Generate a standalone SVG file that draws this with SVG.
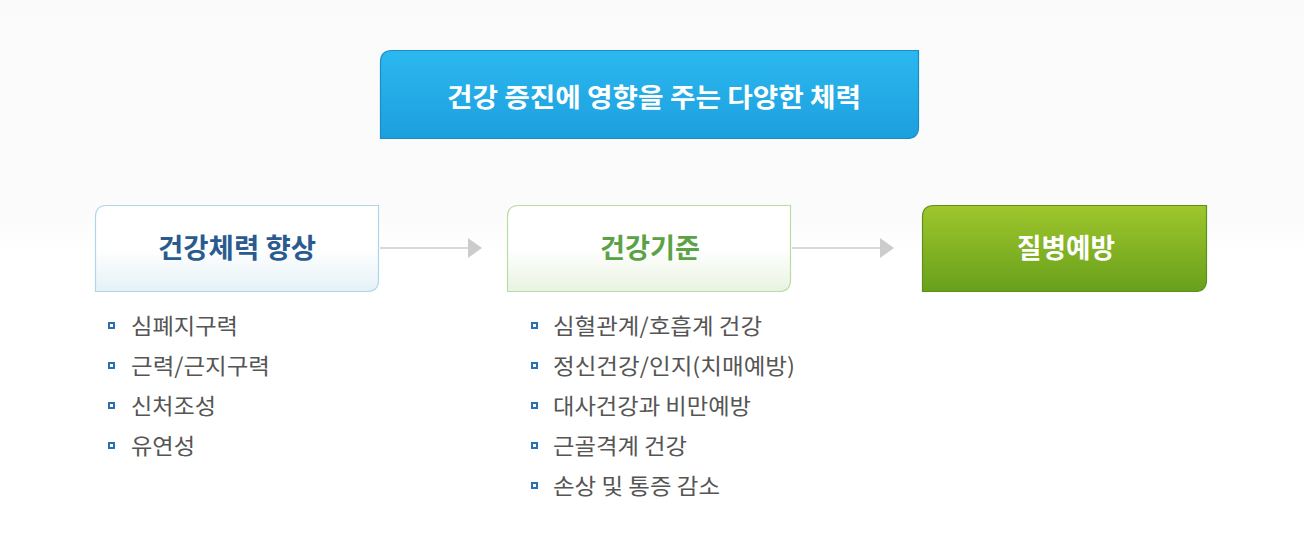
<svg xmlns="http://www.w3.org/2000/svg" width="1304" height="558" viewBox="0 0 1304 558">
<defs>
<linearGradient id="bg" x1="0" y1="0" x2="0" y2="1">
<stop offset="0" stop-color="#fafafa"/><stop offset="0.38" stop-color="#fbfbfb"/><stop offset="0.45" stop-color="#ffffff"/><stop offset="1" stop-color="#ffffff"/>
</linearGradient>
<linearGradient id="gTop" x1="0" y1="0" x2="0" y2="1">
<stop offset="0" stop-color="#2bb8ef"/><stop offset="1" stop-color="#1d9fde"/>
</linearGradient>
<linearGradient id="gBlue" x1="0" y1="0" x2="0" y2="1">
<stop offset="0" stop-color="#ffffff"/><stop offset="0.5" stop-color="#ffffff"/><stop offset="1" stop-color="#e4f1f7"/>
</linearGradient>
<linearGradient id="gGreenL" x1="0" y1="0" x2="0" y2="1">
<stop offset="0" stop-color="#ffffff"/><stop offset="0.5" stop-color="#ffffff"/><stop offset="1" stop-color="#e8f3e0"/>
</linearGradient>
<linearGradient id="gGreen" x1="0" y1="0" x2="0" y2="1">
<stop offset="0" stop-color="#9fc62c"/><stop offset="1" stop-color="#68a01c"/>
</linearGradient>
<marker id="arr" markerWidth="14" markerHeight="20" refX="0" refY="10" orient="auto" markerUnits="userSpaceOnUse">
<path d="M0,0 L14,10 L0,20 Z" fill="#cccccc"/>
</marker>
</defs>
<style>
text{font-family:"Noto Sans CJK KR","Noto Sans",sans-serif}
.title{font-size:26px;font-weight:bold;fill:#ffffff}
.head{font-size:27px;font-weight:bold}
.item{font-size:22px;fill:#555555}
.bul{fill:#ffffff;stroke:#2a6fb0;stroke-width:2}
.conn{stroke:#cccccc;stroke-width:1.5;fill:none}
</style>
<rect x="0" y="0" width="1304" height="558" fill="url(#bg)"/>

<g id="top-node">
<path d="M392,50.5 H918.5 V127 Q918.5,138.5 907,138.5 H380.5 V62 Q380.5,50.5 392,50.5 Z" fill="url(#gTop)" stroke="#1a8dc6" stroke-width="1.2"/>
<text class="title" x="447" y="107" textLength="414" lengthAdjust="spacingAndGlyphs">건강 증진에 영향을 주는 다양한 체력</text>
</g>

<g id="connectors">
<line class="conn" x1="380" y1="248" x2="468" y2="248" marker-end="url(#arr)"/>
<line class="conn" x1="792" y1="248" x2="880" y2="248" marker-end="url(#arr)"/>
</g>

<g id="node-fitness">
<path d="M107,205.5 H378.5 V280 Q378.5,291.5 367,291.5 H95.5 V217 Q95.5,205.5 107,205.5 Z" fill="url(#gBlue)" stroke="#add6e8" stroke-width="1.2"/>
<text class="head" x="158" y="258" textLength="158" lengthAdjust="spacingAndGlyphs" fill="#2b5b8e">건강체력 향상</text>
</g>

<g id="node-standard">
<path d="M519,205.5 H790.5 V280 Q790.5,291.5 779,291.5 H507.5 V217 Q507.5,205.5 519,205.5 Z" fill="url(#gGreenL)" stroke="#b7dca4" stroke-width="1.2"/>
<text class="head" x="600" y="258" textLength="100" lengthAdjust="spacingAndGlyphs" fill="#5ba246">건강기준</text>
</g>

<g id="node-prevention">
<path d="M934,205.5 H1206.5 V280 Q1206.5,291.5 1195,291.5 H922.5 V217 Q922.5,205.5 934,205.5 Z" fill="url(#gGreen)" stroke="#5f8f1c" stroke-width="1.2"/>
<text class="head" x="1017" y="258" textLength="98" lengthAdjust="spacingAndGlyphs" fill="#ffffff">질병예방</text>
</g>

<g id="list-fitness">
<rect class="bul" x="109" y="323" width="5" height="5"/>
<text class="item" x="131" y="334" textLength="107" lengthAdjust="spacingAndGlyphs">심폐지구력</text>
<rect class="bul" x="109" y="363" width="5" height="5"/>
<text class="item" x="131" y="374" textLength="139" lengthAdjust="spacingAndGlyphs">근력/근지구력</text>
<rect class="bul" x="109" y="403" width="5" height="5"/>
<text class="item" x="131" y="414" textLength="85" lengthAdjust="spacingAndGlyphs">신처조성</text>
<rect class="bul" x="109" y="443" width="5" height="5"/>
<text class="item" x="131" y="454" textLength="64" lengthAdjust="spacingAndGlyphs">유연성</text>
</g>

<g id="list-standard">
<rect class="bul" x="532" y="323" width="5" height="5"/>
<text class="item" x="553" y="334" textLength="209" lengthAdjust="spacingAndGlyphs">심혈관계/호흡계 건강</text>
<rect class="bul" x="532" y="363" width="5" height="5"/>
<text class="item" x="553" y="374" textLength="242" lengthAdjust="spacingAndGlyphs">정신건강/인지(치매예방)</text>
<rect class="bul" x="532" y="403" width="5" height="5"/>
<text class="item" x="553" y="414" textLength="198" lengthAdjust="spacingAndGlyphs">대사건강과 비만예방</text>
<rect class="bul" x="532" y="443" width="5" height="5"/>
<text class="item" x="553" y="454" textLength="134" lengthAdjust="spacingAndGlyphs">근골격계 건강</text>
<rect class="bul" x="532" y="483" width="5" height="5"/>
<text class="item" x="553" y="494" textLength="167" lengthAdjust="spacingAndGlyphs">손상 및 통증 감소</text>
</g>
</svg>
